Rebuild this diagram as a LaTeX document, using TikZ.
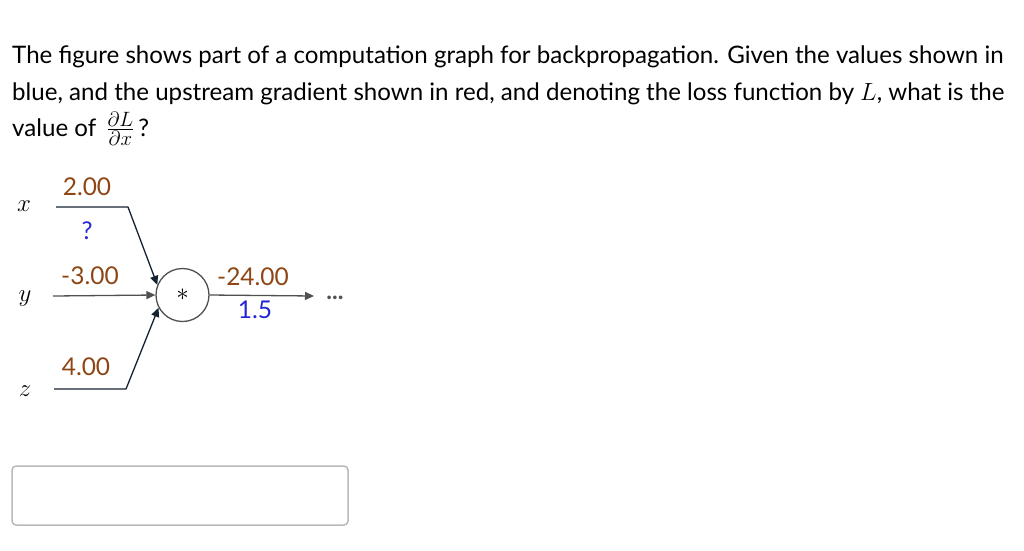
\documentclass[tikz,border=0pt]{standalone}
\usepackage{amsmath}
\usepackage{fontspec}
\setmainfont{Lato}
\usetikzlibrary{arrows.meta}
\definecolor{valuebrown}{RGB}{142,70,20}
\definecolor{gradblue}{RGB}{38,38,215}
\definecolor{edgegray}{RGB}{80,80,80}
\definecolor{edgenavy}{RGB}{22,34,48}
\definecolor{boxgray}{RGB}{185,185,185}

\begin{document}
\begin{tikzpicture}[x=1pt, y=-1pt, line join=round,
                questionline/.style={anchor=base west, inner sep=0pt, font=\fontsize{24.1}{29}\selectfont},
                valuelabel/.style={text=valuebrown, inner sep=0pt, font=\fontsize{24.5}{29}\selectfont},
                gradlabel/.style={text=gradblue, inner sep=0pt, font=\fontsize{24.5}{29}\selectfont},
                varlabel/.style={inner sep=0pt, font=\fontsize{28}{30}\selectfont},
                opnode/.style={shape=circle, draw=edgegray, line width=1.3pt, minimum size=53pt, inner sep=0pt, font=\fontsize{26}{26}\selectfont},
                grayedge/.style={edgegray, line width=1.3pt, -{Triangle[length=9pt, width=8pt]}},
                navyedge/.style={edgenavy, line width=1.3pt, -{Triangle[length=9pt, width=8pt]}}]
            \useasboundingbox (0,0) rectangle (1024,550);
            % Question
            \node[questionline] (line1) at (12, 63) {The figure shows part of a computation graph for backpropagation. Given the values shown in};
            \node[questionline] (line2) at (12, 100) {blue, and the upstream gradient shown in red, and denoting the loss function by $L$, what is the};
            \node[questionline] (line3) at (12, 136) {value of \,{\fontsize{31}{31}\selectfont$\frac{\partial L}{\partial x}$}\,?};
            % Inputs
            \node[varlabel] (varx) at (24, 206) {$x$};
            \node[varlabel] (vary) at (25, 299) {$y$};
            \node[varlabel] (varz) at (25, 391) {$z$};
            \coordinate (xstart) at (56, 207);
            \coordinate (xbend) at (128, 207);
            \coordinate (ystart) at (53, 296);
            \coordinate (zstart) at (54, 389);
            \coordinate (zbend) at (126, 389);
            % Operation
            \node[opnode] (mul) at (182.5, 295) {$\ast$};
            \coordinate (outend) at (314, 296);
            \node[anchor=base, inner sep=0pt, text=edgegray, font=\fontsize{24}{24}\selectfont\bfseries] (dots) at (335, 299) {...};
            % Edges
            \draw[navyedge] (xstart) -- (xbend) -- (mul.158);
            \draw[grayedge] (ystart) -- (mul.west);
            \draw[navyedge] (zstart) -- (zbend) -- (mul.208);
            \draw[grayedge] (mul.east) -- (outend);
            % Values and gradients
            \node[valuelabel] (valx) at (87, 187) {2.00};
            \node[gradlabel] (gradx) at (87, 231) {?};
            \node[valuelabel] (valy) at (90, 276) {-3.00};
            \node[valuelabel] (valz) at (86, 367) {4.00};
            \node[valuelabel] (valout) at (253, 277) {-24.00};
            \node[gradlabel] (gradout) at (255, 310) {1.5};
            % Answer box
            \draw[boxgray, line width=1.5pt, rounded corners=4pt] (12, 466) rectangle (348, 525);
            \end{tikzpicture}
\end{document}
